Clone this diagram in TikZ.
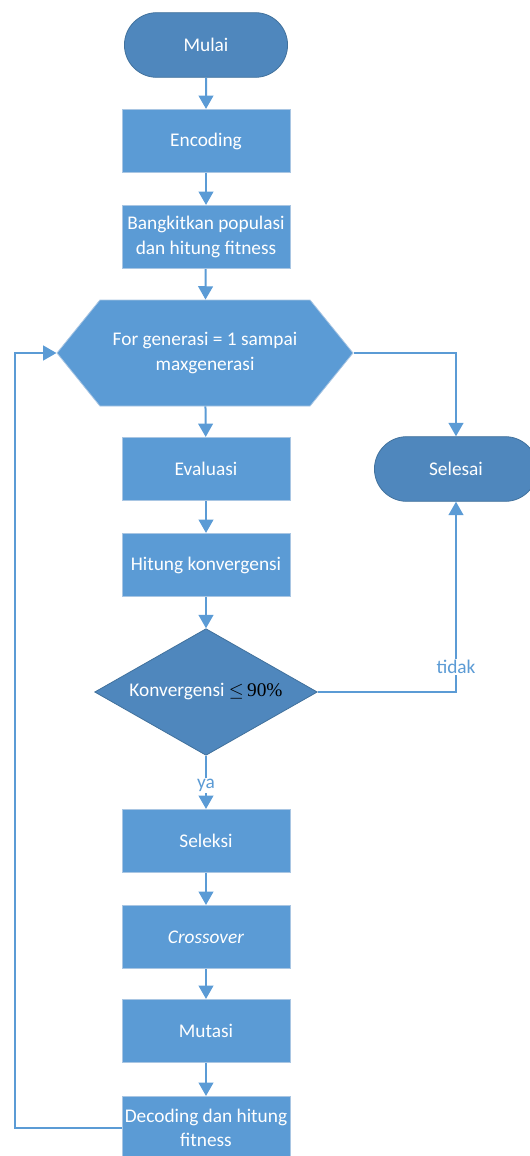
\documentclass[tikz,border=0pt]{standalone}
\usepackage{fontspec}
\setmainfont{Carlito}
\newfontfamily\angka{Liberation Serif}
\usepackage{xcolor}
\usetikzlibrary{shapes.geometric}
\usetikzlibrary{shapes.misc,shapes.symbols}
\usetikzlibrary{arrows.meta}
\definecolor{boxblue}{HTML}{5B9BD5}
\definecolor{boxedge}{HTML}{A9C6E3}
\definecolor{darkblue}{HTML}{4F87BD}
\definecolor{darkedge}{HTML}{41719C}

\begin{document}
\begin{tikzpicture}[x=0.75pt,y=-0.75pt,
  every node/.style={font=\fontsize{14.5}{18.5}\selectfont,text=white,align=center},
  proses/.style={rectangle,draw=boxedge,fill=boxblue,line width=0.6pt,minimum width=126pt,minimum height=47.5pt,inner sep=2pt},
  terminal/.style={rounded rectangle,draw=darkedge,fill=darkblue,line width=0.6pt,minimum width=129pt,minimum height=48.5pt},
  keputusan/.style={diamond,aspect=1.76,draw=darkedge,fill=darkblue,line width=0.6pt,minimum width=167pt,minimum height=95pt,inner sep=0pt},
  ulang/.style={signal,signal from=nowhere,signal to=west and east,signal pointer angle=102,draw=boxedge,fill=boxblue,line width=0.6pt,minimum width=222pt,minimum height=79.5pt,inner sep=0pt},
  panah/.style={draw=boxblue,line width=1.5pt,-{Triangle[width=11pt,length=10pt]}},
  ket/.style={text=boxblue,fill=white,inner sep=1pt}]
\useasboundingbox (0,0) rectangle (529,1156);
\node[terminal] (mulai) at (206,45) {Mulai};
\node[proses] (enc) at (206,141) {Encoding};
\node[proses] (bangkit) at (206,237) {Bangkitkan populasi\\dan hitung fitness};
\node[ulang] (for) at (205,353) {For generasi = 1 sampai\\maxgenerasi};
\node[proses] (eval) at (206,469) {Evaluasi};
\node[proses] (hitung) at (206,565) {Hitung konvergensi};
\node[keputusan] (konv) at (206,692) {Konvergensi {\color{black}$\leq$\,\angka 90\%}};
\node[proses] (seleksi) at (206,841) {Seleksi};
\node[proses] (cross) at (206,937) {\textit{Crossover}};
\node[proses] (mutasi) at (206,1031) {Mutasi};
\node[proses] (dec) at (206,1128) {Decoding dan hitung\\fitness};
\node[terminal] (selesai) at (456,469) {Selesai};
\coordinate (kiri) at (15,353);
\draw[panah] (mulai) -- (enc);
\draw[panah] (enc) -- (bangkit);
\draw[panah] (bangkit) -- (for);
\draw[panah] (for) -- (eval);
\draw[panah] (eval) -- (hitung);
\draw[panah] (hitung) -- (konv);
\draw[panah] (konv) -- node[ket,pos=0.56]{ya} (seleksi);
\draw[panah] (seleksi) -- (cross);
\draw[panah] (cross) -- (mutasi);
\draw[panah] (mutasi) -- (dec);
\draw[panah] (dec.west) -| (kiri) -- (for.west);
\draw[panah] (for.east) -| (selesai.north);
\draw[panah] (konv.east) -| node[ket,pos=0.565]{tidak} (selesai.south);
\end{tikzpicture}
\end{document}
